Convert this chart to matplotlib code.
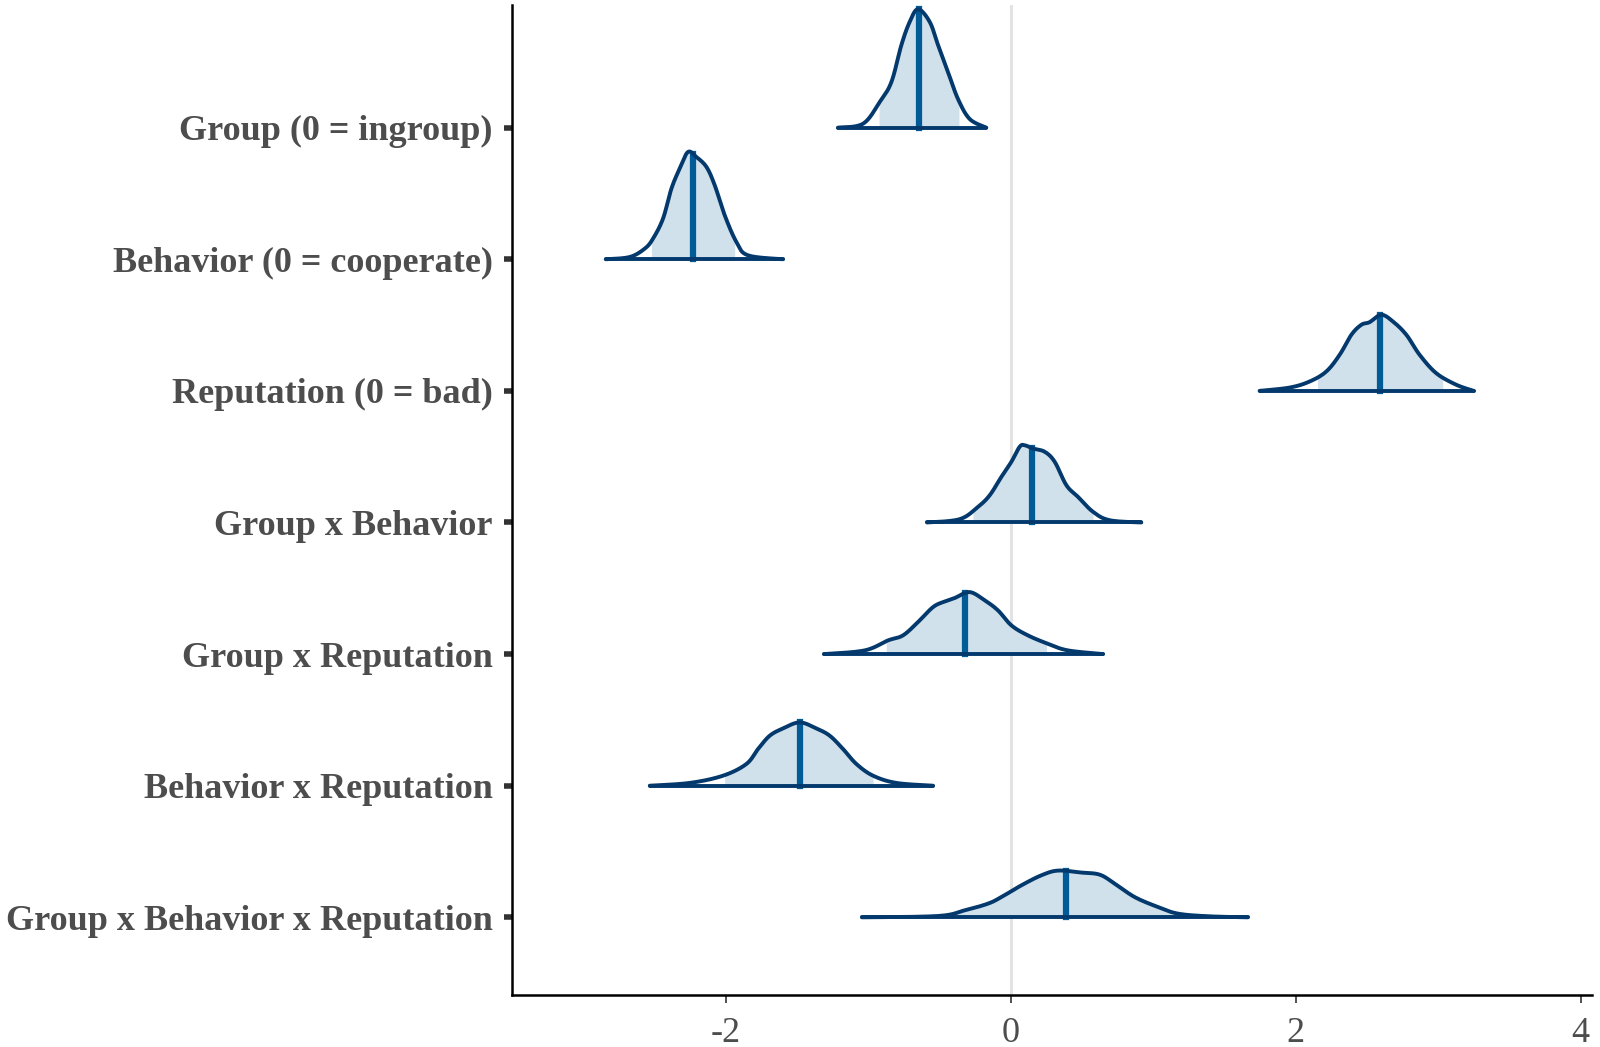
import numpy as np
import matplotlib
matplotlib.use("Agg")
import matplotlib.pyplot as plt

plt.rcParams['font.family'] = ['Liberation Serif', 'DejaVu Serif']

# parameter names, top to bottom
params = ['Group (0 = ingroup)', 'Behavior (0 = cooperate)', 'Reputation (0 = bad)',
          'Group x Behavior', 'Group x Reputation', 'Behavior x Reputation',
          'Group x Behavior x Reputation']

# density outlines (x value, height in row units)
g_x = [-1.212, -1.036, -0.919, -0.837, -0.767, -0.709, -0.650, -0.568, -0.510, -0.440, -0.370, -0.288, -0.171]
g_h = [0, 0.030, 0.195, 0.347, 0.628, 0.803, 0.900, 0.803, 0.628, 0.423, 0.218, 0.066, 0]

b_x = [-2.842, -2.674, -2.568, -2.510, -2.440, -2.381, -2.323, -2.265, -2.206, -2.135, -2.077, -2.007, -1.925, -1.844, -1.598]
b_h = [0, 0.017, 0.081, 0.157, 0.309, 0.537, 0.689, 0.815, 0.777, 0.701, 0.562, 0.334, 0.131, 0.030, 0]

r_x = [1.747, 1.958, 2.098, 2.215, 2.309, 2.391, 2.461, 2.519, 2.601, 2.683, 2.777, 2.870, 2.987, 3.128, 3.250]
r_h = [0, 0.025, 0.071, 0.147, 0.274, 0.426, 0.502, 0.522, 0.578, 0.527, 0.426, 0.274, 0.134, 0.046, 0]

gb_x = [-0.587, -0.358, -0.229, -0.147, -0.065, 0.005, 0.063, 0.098, 0.156, 0.239, 0.309, 0.391, 0.472, 0.578, 0.695, 0.917]
gb_h = [0, 0.025, 0.119, 0.207, 0.347, 0.461, 0.575, 0.587, 0.562, 0.537, 0.461, 0.283, 0.195, 0.081, 0.017, 0]

gr_x = [-1.310, -1.025, -0.861, -0.756, -0.651, -0.545, -0.463, -0.393, -0.288, -0.182, -0.089, 0.005, 0.121, 0.262, 0.402, 0.648]
gr_h = [0, 0.028, 0.104, 0.142, 0.243, 0.357, 0.400, 0.426, 0.471, 0.408, 0.332, 0.218, 0.142, 0.078, 0.028, 0]

br_x = [-2.533, -2.253, -2.019, -1.855, -1.773, -1.691, -1.598, -1.481, -1.364, -1.270, -1.177, -1.083, -0.966, -0.802, -0.545]
br_h = [0, 0.021, 0.076, 0.165, 0.279, 0.380, 0.435, 0.481, 0.435, 0.380, 0.279, 0.165, 0.076, 0.021, 0]

gbr_x = [-1.044, -0.510, -0.323, -0.159, -0.065, 0.075, 0.215, 0.332, 0.496, 0.625, 0.730, 0.870, 1.034, 1.174, 1.385, 1.665]
gbr_h = [0, 0.010, 0.053, 0.104, 0.154, 0.243, 0.319, 0.355, 0.340, 0.324, 0.256, 0.154, 0.078, 0.028, 0.008, 0]

curves_x = [g_x, b_x, r_x, gb_x, gr_x, br_x, gbr_x]
curves_h = [g_h, b_h, r_h, gb_h, gr_h, br_h, gbr_h]

# posterior medians and inner (shaded) interval
medians = [-0.644, -2.229, 2.589, 0.152, -0.323, -1.481, 0.391]
inner_lo = [-0.924, -2.521, 2.154, -0.265, -0.873, -2.007, -0.416]
inner_hi = [-0.363, -1.937, 3.032, 0.578, 0.251, -0.966, 1.151]

x_ticks = [-2, 0, 2, 4]


def smooth(xs, hs, k=20):
    # catmull-rom through the read points, just to round the corners
    p = np.column_stack([xs, hs])
    p = np.vstack([p[0], p, p[-1]])
    out = []
    t = np.linspace(0, 1, k, endpoint=False)[:, None]
    for j in range(1, len(p) - 2):
        p0, p1, p2, p3 = p[j - 1], p[j], p[j + 1], p[j + 2]
        seg = 0.5 * ((2 * p1) + (-p0 + p2) * t + (2 * p0 - 5 * p1 + 4 * p2 - p3) * t ** 2
                     + (-p0 + 3 * p1 - 3 * p2 + p3) * t ** 3)
        out.append(seg)
    out.append(p[-2][None, :])
    out = np.vstack(out)
    out[:, 1] = np.clip(out[:, 1], 0, None)
    return out[:, 0], out[:, 1]


fig = plt.figure(figsize=(16, 10.47), dpi=100)
ax = fig.add_axes([0.32, 0.0497, 0.675, 0.9453])

ax.axvline(0, color='#e3e3e3', lw=2.2, zorder=0)

n = len(params)
for i in range(n):
    y0 = n - 1 - i
    xs, hs = smooth(np.array(curves_x[i]), np.array(curves_h[i]))
    xi = np.linspace(inner_lo[i], inner_hi[i], 300)
    hi = np.interp(xi, xs, hs)
    ax.fill_between(xi, y0, y0 + hi, color='#d1e1ec', lw=0, zorder=1)
    hm = np.interp(medians[i], xs, hs)
    ax.plot([medians[i], medians[i]], [y0, y0 + hm], color='#005b96', lw=4.5, zorder=2)
    ax.plot(xs, y0 + hs, color='#03396c', lw=2.8, solid_capstyle='round', solid_joinstyle='round', zorder=3)
    ax.plot([xs[0], xs[-1]], [y0, y0], color='#03396c', lw=2.8, solid_capstyle='round', zorder=3)

ax.set_xlim(-3.50, 4.08)
ax.set_ylim(-0.59, n - 1 + 0.93)
ax.set_yticks(range(n))
ax.set_yticklabels(params[::-1])
ax.set_xticks(x_ticks)
ax.set_xticklabels([str(t) for t in x_ticks])

for s in ['top', 'right']:
    ax.spines[s].set_visible(False)
for s in ['left', 'bottom']:
    ax.spines[s].set_linewidth(1.8)
    ax.spines[s].set_color('black')

ax.tick_params(axis='y', length=6, width=4, color='#333333', pad=8, labelsize=26, labelcolor='#4d4d4d')
ax.tick_params(axis='x', length=6, width=1.2, color='#333333', pad=10, labelsize=26, labelcolor='#4d4d4d')
for lab in ax.get_yticklabels():
    lab.set_fontweight('bold')

fig.savefig('out.png', dpi=100)
